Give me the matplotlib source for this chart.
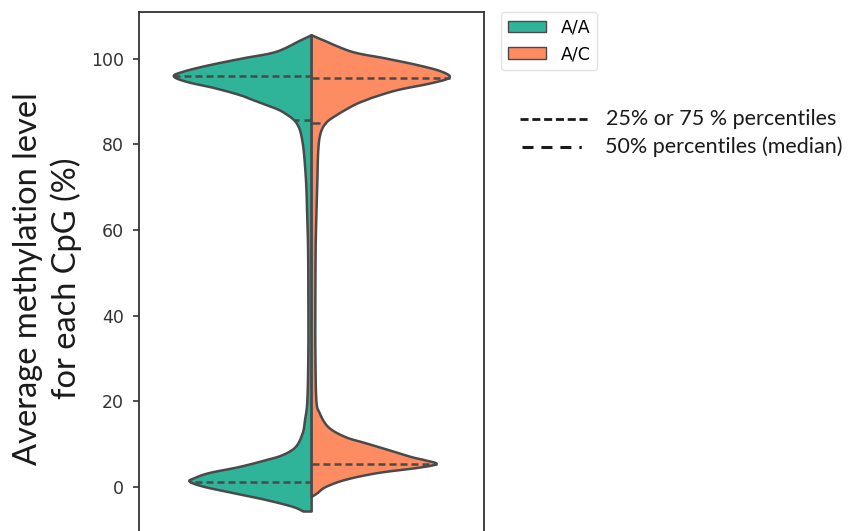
import matplotlib
matplotlib.use("Agg")
import matplotlib.pyplot as plt
from matplotlib.lines import Line2D
import numpy as np

# violin outlines: methylation level (%) and relative half-width
AA_LEVEL = [105.5, 104.3, 101.6, 100.1, 98.5, 97.0, 95.9, 94.6, 93.1, 91.5, 90.4,
            89.2, 88.0, 86.8, 85.7, 84.5, 82.6, 78.6, 70.9, 62.9, 55.3, 43.6, 32.0,
            20.3, 15.6, 12.5, 9.3, 7.4, 6.2, 4.6, 3.2, 2.0, 1.2, 0.0, -1.5, -3.1,
            -4.7, -5.8]
AA_WIDTH = [0.0, 0.079, 0.259, 0.496, 0.741, 0.928, 1.0, 0.906, 0.700, 0.52, 0.43,
            0.33, 0.235, 0.173, 0.129, 0.101, 0.079, 0.058, 0.040, 0.032, 0.026, 0.024,
            0.024, 0.031, 0.048, 0.065, 0.115, 0.209, 0.331, 0.525, 0.741, 0.849, 0.885,
            0.784, 0.568, 0.331, 0.137, 0.06]

AC_LEVEL = [105.5, 104.3, 101.6, 100.1, 98.5, 97.0, 95.6, 94.3, 92.7, 91.1, 90.4,
            89.2, 86.8, 85.0, 82.6, 78.6, 70.9, 62.9, 55.3, 43.6, 32.0, 20.3, 17.2,
            13.9, 11.6, 10.2, 8.6, 6.9, 6.2, 5.3, 4.4, 3.2, 1.6, -0.1, -1.5, -2.4]
AC_WIDTH = [0.0, 0.086, 0.295, 0.532, 0.770, 0.942, 1.0, 0.871, 0.626, 0.46, 0.40,
            0.31, 0.18, 0.105, 0.065, 0.048, 0.041, 0.034, 0.029, 0.027, 0.027, 0.034,
            0.058, 0.122, 0.245, 0.388, 0.554, 0.727, 0.820, 0.906, 0.770, 0.482, 0.245,
            0.101, 0.043, 0.0]

# 25%, 50%, 75% percentiles
AA_PCT = [1.2, 85.7, 95.9]
AC_PCT = [5.3, 85.0, 95.6]

GROUPS = ["A/A", "A/C"]
COLORS = ["#2fb49a", "#fd8c63"]
EDGE = "#4a4a4a"
HALF = 0.4  # max half-width in axis units
LW = 1.8

# dash patterns (scaled by linewidth)
Q_DASH = (2.8, 1.6)
M_DASH = (3.2, 2.0)


def catmull_rom(xs, ys, n=12):
    # smooth curve through the read points
    p = np.column_stack([xs, ys])
    p = np.vstack([p[0], p, p[-1]])
    out = []
    t = np.linspace(0, 1, n, endpoint=False)[:, None]
    for i in range(1, len(p) - 2):
        p0, p1, p2, p3 = p[i - 1], p[i], p[i + 1], p[i + 2]
        seg = 0.5 * ((2 * p1) + (-p0 + p2) * t + (2 * p0 - 5 * p1 + 4 * p2 - p3) * t**2
                     + (-p0 + 3 * p1 - 3 * p2 + p3) * t**3)
        out.append(seg)
    out.append(p[-2][None, :])
    out = np.vstack(out)
    return out[:, 0], out[:, 1]


def half_violin(ax, level, width, side, color):
    w = np.asarray(width) * HALF * side
    xs, ys = catmull_rom(w, np.asarray(level))
    if side < 0:
        xs = np.minimum(xs, 0)
    else:
        xs = np.maximum(xs, 0)
    xs = np.concatenate([[0], xs, [0]])
    ys = np.concatenate([[ys[0]], ys, [ys[-1]]])
    ax.fill(xs, ys, facecolor=color, edgecolor=EDGE, linewidth=LW, zorder=2,
            joinstyle="round")


def inner_lines(ax, level, width, pcts, side):
    lv = np.asarray(level)[::-1]
    wd = np.asarray(width)[::-1]
    for i, p in enumerate(pcts):
        w = np.interp(p, lv, wd) * HALF * side
        dash = M_DASH if i == 1 else Q_DASH
        ax.plot([0, w], [p, p], color=EDGE, linewidth=LW, dashes=dash,
                solid_capstyle="butt", zorder=3)


fig = plt.figure(figsize=(8.68, 5.31), dpi=100)
ax = fig.add_axes([0.1605, 0.0, 0.3971, 0.978])

half_violin(ax, AA_LEVEL, AA_WIDTH, -1, COLORS[0])
half_violin(ax, AC_LEVEL, AC_WIDTH, 1, COLORS[1])
inner_lines(ax, AA_LEVEL, AA_WIDTH, AA_PCT, -1)
inner_lines(ax, AC_LEVEL, AC_WIDTH, AC_PCT, 1)

ax.set_xlim(-0.5, 0.5)
ax.set_ylim(-10.35, 111)
ax.set_xticks([])
ax.set_yticks([0, 20, 40, 60, 80, 100])
ax.tick_params(axis="y", length=4.5, width=1.2, pad=6.5, labelsize=12.5,
               colors="#333333")
for s in ["left", "right", "top"]:
    ax.spines[s].set_color("#333333")
    ax.spines[s].set_linewidth(1.3)
ax.spines["bottom"].set_visible(False)

fig.text(0.0547, 0.476, "Average methylation level\nfor each CpG (%)",
         rotation=90, ha="center", va="center", fontsize=23.5,
         family="Lato", linespacing=1.3, color="#1a1a1a")

handles = [plt.Rectangle((0, 0), 1, 1, facecolor=c, edgecolor=EDGE, linewidth=1)
           for c in COLORS]
fig.legend(handles, GROUPS, loc="upper left", bbox_to_anchor=(0.577, 0.978),
           prop={"family": "DejaVu Sans", "size": 12.5}, frameon=True,
           edgecolor="#dddddd", handlelength=2.2, handleheight=0.67,
           borderpad=0.4, labelspacing=0.5, handletextpad=0.83, borderaxespad=0)

# line-style key
key_q = Line2D([520 / 868, 590 / 868], [0.775, 0.775], transform=fig.transFigure,
               color="#1a1a1a", linewidth=2.0, dashes=(2.9, 1.35))
key_m = Line2D([522 / 868, 592 / 868], [0.723, 0.723], transform=fig.transFigure,
               color="#1a1a1a", linewidth=2.2,
               dashes=(3.6, 2.6, 3.6, 2.6, 3.6, 2.6, 0.8, 5.0))
fig.add_artist(key_q)
fig.add_artist(key_m)
fig.text(0.698, 0.775, "25% or 75 % percentiles", fontsize=15.5, family="Lato",
         va="center", color="#1a1a1a")
fig.text(0.697, 0.723, "50% percentiles (median)", fontsize=15.5, family="Lato",
         va="center", color="#1a1a1a")

fig.savefig("out.png", dpi=100)
